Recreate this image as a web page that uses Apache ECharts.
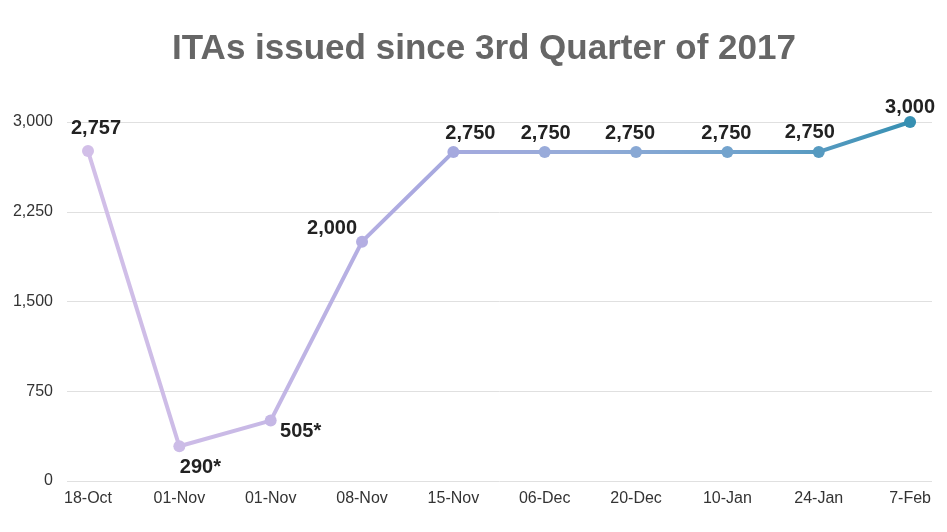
<!DOCTYPE html>
<html>
<head>
<meta charset="utf-8">
<script src="https://cdn.jsdelivr.net/npm/echarts@6/dist/echarts.min.js"></script>
<style>html,body{margin:0;padding:0;background:#fff;}#c{width:947px;height:532px;}</style>
</head>
<body>
<div id="c"></div>
<script>
const categories = ["18-Oct","01-Nov","01-Nov","08-Nov","15-Nov","06-Dec","20-Dec","10-Jan","24-Jan","7-Feb"];
const itas = [2757, 290, 505, 2000, 2750, 2750, 2750, 2750, 2750, 3000];
const notes = ["", "*", "*", "", "", "", "", "", "", ""];
const yTicks = [0, 750, 1500, 2250, 3000];

const labelOffsets = [[8,-23],[21,21],[30,11],[-30,-13],[17,-18],[1,-18],[-6,-18],[-1,-18],[-9,-19],[0,-15]];

const fmt = v => v.toLocaleString('en-US');
const seriesData = itas.map((v, i) => ({
  value: [i, v],
  label: { offset: labelOffsets[i] }
}));

const chart = echarts.init(document.getElementById('c'));
chart.setOption({
  backgroundColor: '#fff',
  animation: false,
  title: {
    text: 'ITAs issued since 3rd Quarter of 2017',
    left: 479, top: 27, textAlign: 'center',
    textStyle: { fontFamily: 'Liberation Sans', fontWeight: 'bold', fontSize: 35, color: '#666' }
  },
  grid: { left: 67, right: 15, top: 122, bottom: 51, containLabel: false },
  visualMap: {
    show: false, type: 'continuous', dimension: 0, min: 0, max: 9,
    inRange: { color: ['#d2bfe8', '#c8b9e6', '#aaa9e0', '#94abd8', '#6fa2cc', '#3790b2'] }
  },
  xAxis: {
    type: 'value', min: -0.23, max: 9.24,
    splitLine: { show: false },
    axisLine: { show: false }, axisTick: { show: false },
    axisLabel: {
      customValues: categories.map((c, i) => i),
      formatter: v => categories[Math.round(v)] || '',
      fontFamily: 'Liberation Sans', fontSize: 16, color: '#333', margin: 10
    }
  },
  yAxis: {
    type: 'value', min: 0, max: 3000, interval: 750,
    axisLine: { show: false }, axisTick: { show: false },
    splitLine: { lineStyle: { color: '#e0e0e0', width: 1 } },
    axisLabel: { formatter: v => fmt(v), fontFamily: 'Liberation Sans', fontSize: 16, color: '#333', margin: 14 }
  },
  series: [{
    type: 'line',
    data: seriesData,
    symbol: 'circle', symbolSize: 12,
    lineStyle: { width: 4 },
    label: {
      show: true, position: 'inside',
      align: 'center', verticalAlign: 'middle',
      formatter: p => fmt(itas[p.dataIndex]) + notes[p.dataIndex],
      fontFamily: 'Liberation Sans', fontWeight: 'bold', fontSize: 20, color: '#222'
    }
  }]
});
</script>
</body>
</html>
